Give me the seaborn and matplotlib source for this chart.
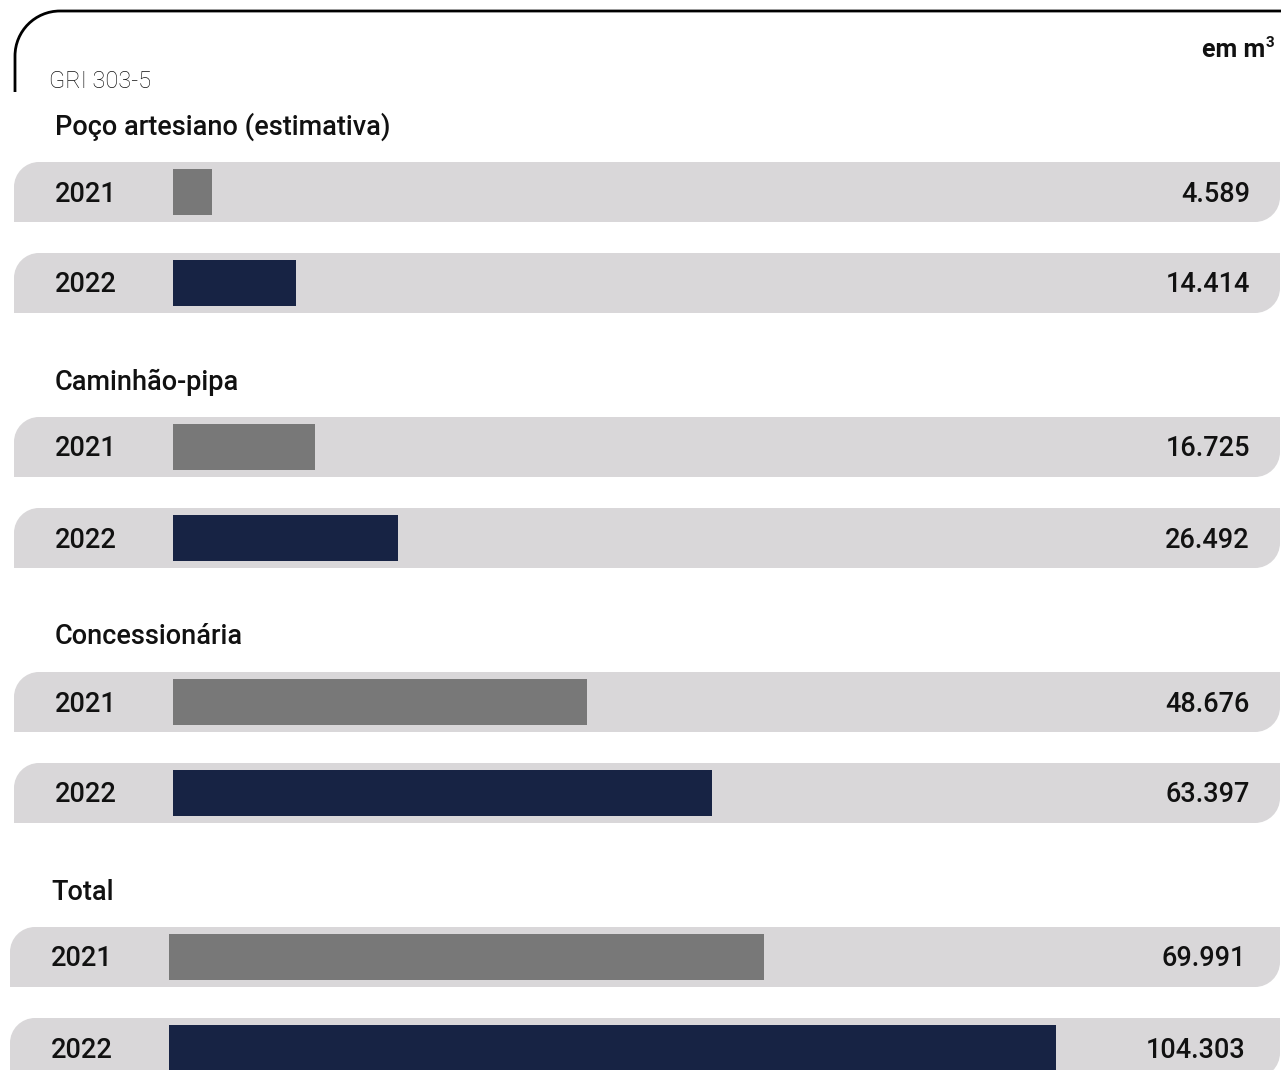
import matplotlib
matplotlib.use("Agg")
import matplotlib.pyplot as plt
from matplotlib.path import Path
from matplotlib.patches import PathPatch
import seaborn as sns
import pandas as pd

# ---- data ----
groups = ["Poço artesiano (estimativa)", "Caminhão-pipa", "Concessionária", "Total"]
years = ["2021", "2022"]
values_2021 = [4589, 16725, 48676, 69991]
values_2022 = [14414, 26492, 63397, 104303]
unit_label = "em m"
unit_sup = "3"
gri_label = "GRI 303-5"

GRAY = "#787878"
NAVY = "#172344"
PILL = "#d9d7d9"

sns.set_theme(style="white")
plt.rcParams["font.family"] = ["Roboto", "DejaVu Sans"]

W, H = 1281, 1070
fig = plt.figure(figsize=(W / 100, H / 100), dpi=100)
bg = fig.add_axes([0, 0, 1, 1], zorder=0)
bg.set_xlim(0, W)
bg.set_ylim(H, 0)
bg.axis("off")

K = 0.5523


def leaf_path(L, T, R, B, r):
    verts = [
        (L, B), (L, T + r),
        (L, T + r - K * r), (L + r - K * r, T), (L + r, T),
        (R, T), (R, B - r),
        (R, B - r + K * r), (R - r + K * r, B), (R - r, B),
        (L, B), (L, B),
    ]
    codes = [Path.MOVETO, Path.LINETO,
             Path.CURVE4, Path.CURVE4, Path.CURVE4,
             Path.LINETO, Path.LINETO,
             Path.CURVE4, Path.CURVE4, Path.CURVE4,
             Path.LINETO, Path.CLOSEPOLY]
    return Path(verts, codes)


# top border with rounded corner
rb = 45
bverts = [(15, 92), (15, 11 + rb), (15, 11 + rb - K * rb), (15 + rb - K * rb, 11),
          (15 + rb, 11), (W + 5, 11)]
bcodes = [Path.MOVETO, Path.LINETO, Path.CURVE4, Path.CURVE4, Path.CURVE4, Path.LINETO]
bg.add_patch(PathPatch(Path(bverts, bcodes), fill=False, lw=2.0, edgecolor="black",
                       capstyle="butt"))

bg.text(1265, 50, unit_label, ha="right", va="center", fontsize=18, fontweight="bold",
        color="#111111")
bg.text(1266, 43, unit_sup, ha="left", va="center", fontsize=11, fontweight="bold",
        color="#111111")
bg.text(49, 81, gri_label, ha="left", va="center", fontsize=17, fontweight="light",
        color="#111111")

px_per_unit = 8.5 / 1000.0
first_center = 192.0
group_step = 255.0
row_step = 91.0
bar_h = 46.0
FS = 19.5
TDY = 2  # text baseline nudge

for gi, gname in enumerate(groups):
    is_total = gname == "Total"
    x0 = 169 if is_total else 173
    pill_left = 10 if is_total else 14
    text_left = 51 if is_total else 55
    val_right = 1246 if is_total else 1250
    c1 = first_center + gi * group_step
    centers = [c1, c1 + row_step]

    bg.text(text_left, c1 - 67 + TDY, gname, ha="left", va="center", fontsize=FS,
            fontweight="medium", color="#111111")

    vals = [values_2021[gi], values_2022[gi]]
    for yr, cy, v in zip(years, centers, vals):
        bg.add_patch(PathPatch(leaf_path(pill_left, cy - 30, 1280, cy + 30, 25),
                               facecolor=PILL, edgecolor="none"))
        bg.text(text_left, cy + TDY, yr, ha="left", va="center", fontsize=FS,
                fontweight="medium", color="#111111")
        bg.text(val_right, cy + TDY, f"{v:,}".replace(",", "."), ha="right",
                va="center", fontsize=FS, fontweight="medium", color="#111111")

    # bars axes
    top_px = c1 - row_step / 2
    ax_h = 2 * row_step
    ax_w = W - x0
    ax = fig.add_axes([x0 / W, 1 - (top_px + ax_h) / H, ax_w / W, ax_h / H], zorder=1)
    df = pd.DataFrame({"year": years, "value": vals})
    sns.barplot(data=df, y="year", x="value", hue="year", palette=[GRAY, NAVY],
                orient="h", width=bar_h / row_step, saturation=1, legend=False,
                linewidth=0, edgecolor="none", ax=ax)
    ax.set_xlim(0, ax_w / px_per_unit)
    ax.set_ylim(1.5, -0.5)
    ax.patch.set_alpha(0)
    ax.axis("off")

fig.savefig("out.png", dpi=100)
